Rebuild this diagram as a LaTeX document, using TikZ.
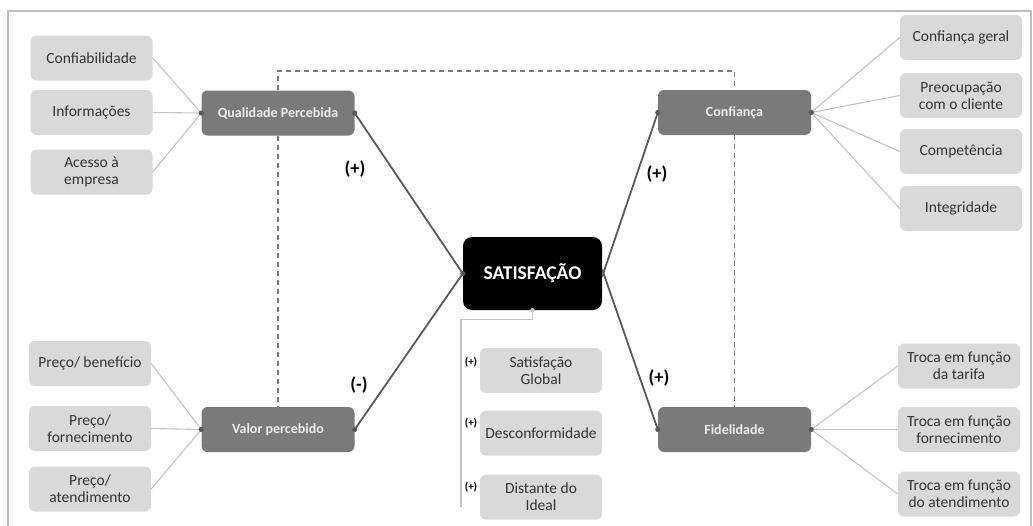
\documentclass[tikz,border=0pt]{standalone}
\usepackage{fontspec}
\setmainfont{Carlito}
\definecolor{leaffill}{HTML}{D9D9D9}
\definecolor{leaftext}{HTML}{333333}
\definecolor{mainfill}{HTML}{7A7A7A}
\definecolor{mainline}{HTML}{5A5A5A}
\definecolor{thinline}{HTML}{C4C4C4}
\definecolor{framecol}{HTML}{BDBDBD}
\begin{document}
\begin{tikzpicture}[x=1pt,y=-1pt,
  leaf/.style={fill=leaffill,rounded corners=6pt,minimum width=122pt,minimum height=45pt,
     align=center,text=leaftext,font=\fontsize{15.5}{17}\selectfont,inner sep=2pt},
  hub/.style={fill=mainfill,rounded corners=6pt,minimum width=153pt,minimum height=45pt,
     align=center,text=white!92!black,font=\bfseries\fontsize{14}{16}\selectfont},
  core/.style={fill=black,rounded corners=9pt,minimum width=139pt,minimum height=73pt,
     text=white,font=\bfseries\fontsize{19.5}{21}\selectfont},
  thick link/.style={draw=mainline,line width=1.8pt},
  thin link/.style={draw=thinline,line width=1.1pt},
  dash link/.style={draw=mainline!80,line width=1.2pt,dash pattern=on 5pt off 4pt},
  sign/.style={font=\bfseries\fontsize{18.5}{19}\selectfont,text=black},
  small sign/.style={font=\bfseries\fontsize{11}{12}\selectfont,text=black,inner sep=1pt},
  dot/.style={fill=mainline}
]
\useasboundingbox (0,0) rectangle (1033,525);
\draw[framecol,line width=1.2pt] (8,526) -- (8,11) -- (1031,11) -- (1031,526);

% leaves left
\node[leaf] (cfb) at (91.5,58) {Confiabilidade};
\node[leaf] (inf) at (91.5,112.5) {Informações};
\node[leaf] (ace) at (91.5,172) {Acesso à\\empresa};
\node[leaf] (pbe) at (90,363.5) {Preço/ benefício};
\node[leaf] (pfo) at (90,428.5) {Preço/\\fornecimento};
\node[leaf] (pat) at (90,489) {Preço/\\atendimento};
% leaves right
\node[leaf] (cge) at (961,37.5) {Confiança geral};
\node[leaf] (pre) at (961,95.5) {Preocupação\\com o cliente};
\node[leaf] (cmp) at (961,151.5) {Competência};
\node[leaf] (itg) at (961,208.5) {Integridade};
\node[leaf] (ttr) at (959,366) {Troca em função\\da tarifa};
\node[leaf] (tfo) at (959,429.5) {Troca em função\\fornecimento};
\node[leaf] (tat) at (959,494) {Troca em função\\do atendimento};
% hubs
\node[hub] (qp) at (278,113) {Qualidade Percebida};
\node[hub] (vp) at (278,429.5) {Valor percebido};
\node[hub] (cf) at (734.5,112.5) {Confiança};
\node[hub] (fd) at (734.5,429.5) {Fidelidade};
% core
\node[core] (sat) at (532.5,273.5) {SATISFAÇÃO};
% satisfaction sub items
\node[leaf] (sg) at (541,370.5) {Satisfação\\Global};
\node[leaf] (dc) at (541,433) {Desconformidade};
\node[leaf] (di) at (541,497) {Distante do\\Ideal};
\coordinate (treeend) at (461,507);

% thin links
\foreach \n in {cfb,inf,ace} \draw[thin link] (\n.east) -- (qp.west);
\foreach \n in {pbe,pfo,pat} \draw[thin link] (\n.east) -- (vp.west);
\foreach \n in {cge,pre,cmp,itg} \draw[thin link] (cf.east) -- (\n.west);
\foreach \n in {ttr,tfo,tat} \draw[thin link] (fd.east) -- (\n.west);
\draw[thin link] (sat.south) -- ++(0,9) -| (treeend);

% dashed links
\draw[dash link] (qp.north) -- (qp.north |- 0,71) -| (cf.north);
\draw[dash link] (qp.south) -- (vp.north);
\draw[dash link] (cf.south) -- (fd.north);

% main links
\draw[thick link] (qp.east) -- (sat.west);
\draw[thick link] (vp.east) -- (sat.west);
\draw[thick link] (cf.west) -- ([yshift=-3pt]sat.east);
\draw[thick link] ([yshift=4pt]sat.east) -- (fd.west);

% dots
\foreach \p in {qp.west,qp.east,vp.west,vp.east,cf.west,cf.east,fd.west,fd.east,sat.west}
  \fill[dot] (\p) circle (2.6pt);
\fill[thinline] (sat.south) circle (2.2pt);

% signs
\node[sign] (s1) at (355,169) {(+)};
\node[sign] (s2) at (657,174) {(+)};
\node[sign] (s3) at (359,385) {(-)};
\node[sign] (s4) at (659,378) {(+)};
\node[small sign] (t1) at (471,362) {(+)};
\node[small sign] (t2) at (471,423) {(+)};
\node[small sign] (t3) at (471,487) {(+)};
\end{tikzpicture}
\end{document}
